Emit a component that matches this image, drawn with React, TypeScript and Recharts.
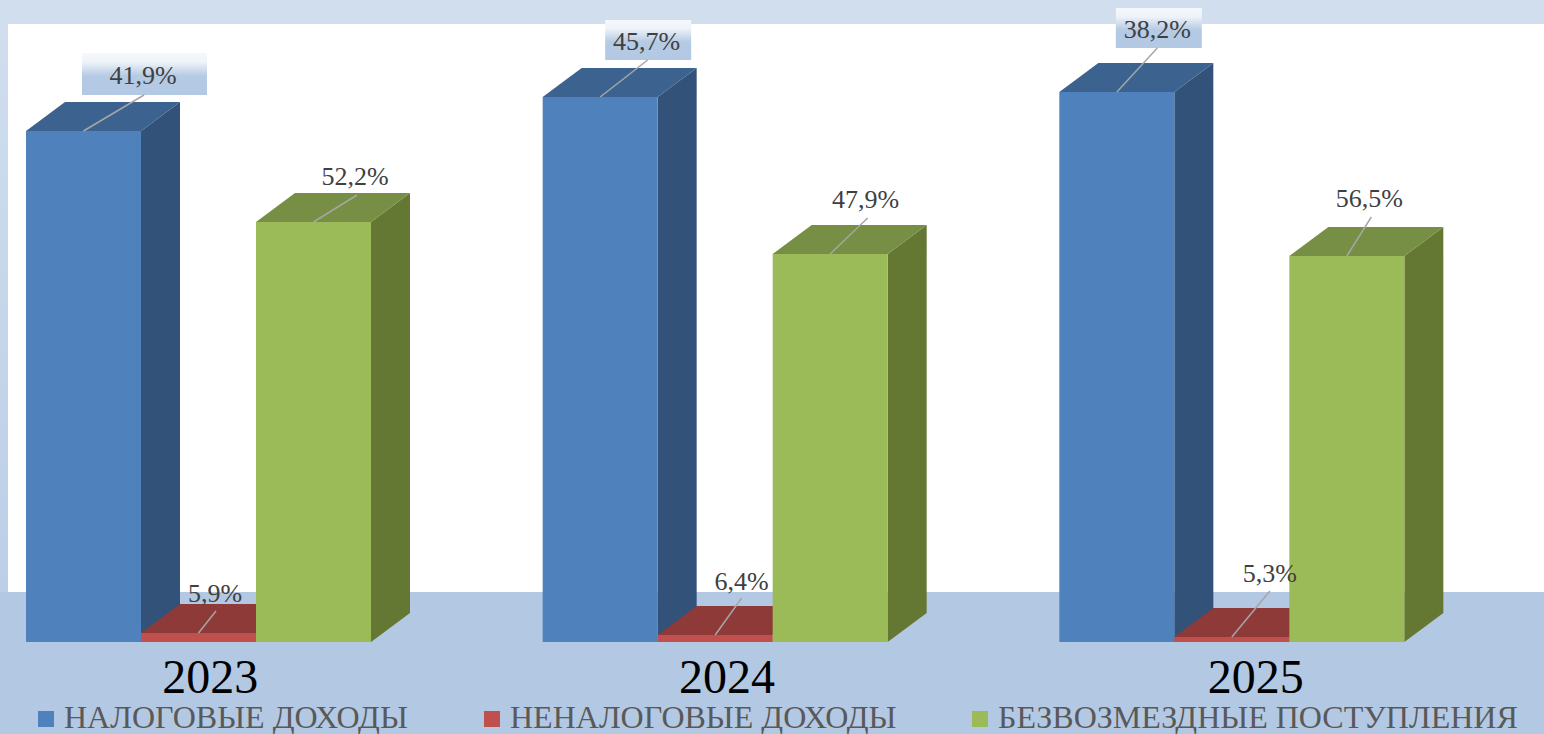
import React from 'react';
import { BarChart, Bar, XAxis, YAxis, Legend, LabelList } from 'recharts';

const years = ['2023', '2024', '2025'];

// bar heights as drawn in the picture (they do not follow the printed percentages)
const taxValues = [511, 545, 550];
const nonTaxValues = [9, 7, 5];
const grantValues = [420, 388, 386];

const taxLabels = ['41,9%', '45,7%', '38,2%'];
const nonTaxLabels = ['5,9%', '6,4%', '5,3%'];
const grantLabels = ['52,2%', '47,9%', '56,5%'];

const TAX_NAME = 'НАЛОГОВЫЕ ДОХОДЫ';
const NON_TAX_NAME = 'НЕНАЛОГОВЫЕ ДОХОДЫ';
const GRANT_NAME = 'БЕЗВОЗМЕЗДНЫЕ ПОСТУПЛЕНИЯ';

const data = years.map((year, i) => ({
  year,
  tax: taxValues[i],
  nonTax: nonTaxValues[i],
  grants: grantValues[i],
  taxLabel: taxLabels[i],
  nonTaxLabel: nonTaxLabels[i],
  grantLabel: grantLabels[i],
}));

const FONT = '"Liberation Serif", serif';
const WIDTH = 1544;
const HEIGHT = 734;
const DEPTH_X = 39;
const DEPTH_Y = 29;
const chartMargin = { top: 42, right: 54, left: -60, bottom: 42 };

// Label placement by year, relative to the middle of the bar's top edge
const taxPlacement = [
  { dx: 59.5, base: -47, endX: 60.5, endY: -36, boxX: 61, boxW: 125, boxTop: -78, boxH: 42 },
  { dx: 46.5, base: -47, endX: 47.5, endY: -37, boxX: 48, boxW: 86, boxTop: -77, boxH: 40 },
  { dx: 40.5, base: -54, endX: 40.5, endY: -44, boxX: 42, boxW: 86, boxTop: -84, boxH: 40 },
];
const nonTaxPlacement = [
  { dx: 16.5, base: -31, endX: 17.5, endY: -22 },
  { dx: 26.5, base: -45, endX: 26.5, endY: -37 },
  { dx: 38, base: -55, endX: 38, endY: -46 },
];
const grantPlacement = [
  { dx: 41.5, base: -37, endX: 43.5, endY: -27 },
  { dx: 35.5, base: -46, endX: 37.5, endY: -36 },
  { dx: 22.5, base: -49, endX: 24.5, endY: -39 },
];

// Year captions are not centred on their groups in the reference
const tickShift = [12, 12, 24];

// Flat-shaded box: side face, top face, then the front
const box3d = (front: string, side: string, top: string) => (props: any) => {
  const { x, y, width, height } = props;
  const right = x + width;
  const bottom = y + height;
  return (
    <g>
      <polygon
        points={`${right},${y} ${right + DEPTH_X},${y - DEPTH_Y} ${right + DEPTH_X},${bottom - DEPTH_Y} ${right},${bottom}`}
        fill={side}
      />
      <polygon
        points={`${x},${y} ${x + DEPTH_X},${y - DEPTH_Y} ${right + DEPTH_X},${y - DEPTH_Y} ${right},${y}`}
        fill={top}
      />
      <rect x={x} y={y} width={width} height={height} fill={front} />
    </g>
  );
};

const labelWithLeader = (placement: any[]) => (props: any) => {
  const { x, y, width, value, index } = props;
  const p = placement[index];
  const cx = x + width / 2;
  return (
    <g>
      {p.boxW && (
        <rect x={cx + p.boxX - p.boxW / 2} y={y + p.boxTop} width={p.boxW} height={p.boxH} fill="url(#labelBox)" />
      )}
      <line x1={cx} y1={y} x2={cx + p.endX} y2={y + p.endY} stroke="#a6a6a6" strokeWidth={1.5} />
      <text x={cx + p.dx} y={y + p.base} textAnchor="middle" fontFamily={FONT} fontSize={26} fill="#404040">
        {value}
      </text>
    </g>
  );
};

const YearTick = ({ x, y, payload, index }: any) => (
  <text x={x + tickShift[index]} y={y + 45} textAnchor="middle" fontFamily={FONT} fontSize={48} fill="#000000">
    {payload.value}
  </text>
);

const legendLeft = [38, 484, 972];

const LegendRow = ({ payload }: any) => (
  <div style={{ position: 'relative', width: WIDTH, height: 34 }}>
    {(payload || []).map((item: any, i: number) => (
      <div key={item.value} style={{ position: 'absolute', left: legendLeft[i], top: 0, whiteSpace: 'nowrap' }}>
        <span style={{ position: 'absolute', left: 0, top: 11, width: 16, height: 16, background: item.color }} />
        <span style={{ position: 'absolute', left: 26, top: 2, fontFamily: FONT, fontSize: 32, lineHeight: '30px', color: '#595959' }}>
          {item.value}
        </span>
      </div>
    ))}
  </div>
);

const App: React.FC = () => (
  <div style={{ position: 'absolute', left: 0, top: 0, width: WIDTH, height: HEIGHT, overflow: 'hidden', background: '#ffffff' }}>
    {/* page backdrop */}
    <div style={{ position: 'absolute', left: 0, top: 0, width: WIDTH, height: 24, background: '#d0deee' }} />
    <div style={{ position: 'absolute', left: 0, top: 24, width: 8, height: 568, background: 'linear-gradient(#d0deee, #bccfe7)' }} />
    <div style={{ position: 'absolute', left: 0, top: 592, width: WIDTH, height: 142, background: '#b3c8e3' }} />

    <div style={{ position: 'absolute', left: 0, top: 0 }}>
      <BarChart width={WIDTH} height={HEIGHT} data={data} margin={chartMargin} barGap={0} barCategoryGap={86}>
        <XAxis
          dataKey="year"
          height={50}
          axisLine={false}
          tickLine={false}
          tick={<YearTick />}
          tickMargin={0}
          interval={0}
        />
        <YAxis hide domain={[0, 600]} />
        <Legend
          layout="horizontal"
          verticalAlign="middle"
          align="center"
          itemSorter={null}
          wrapperStyle={{ left: 0, top: 700, width: WIDTH, height: 34 }}
          content={<LegendRow />}
        />
        <Bar dataKey="tax" name={TAX_NAME} fill="#4f81bd" isAnimationActive={false} shape={box3d('#4f81bd', '#32527a', '#3c6390')} />
        <Bar dataKey="nonTax" name={NON_TAX_NAME} fill="#c0504d" isAnimationActive={false} shape={box3d('#c0504d', '#7c2f2d', '#8e3a39')} />
        <Bar dataKey="grants" name={GRANT_NAME} fill="#9bbb59" isAnimationActive={false} shape={box3d('#9bbb59', '#647833', '#778f44')} />
      </BarChart>
    </div>

    {/* labels sit in a second chart so that they stay on top of every bar */}
    <div style={{ position: 'absolute', left: 0, top: 0 }}>
      <BarChart width={WIDTH} height={HEIGHT} data={data} margin={{ ...chartMargin, bottom: 92 }} barGap={0} barCategoryGap={86}>
        <defs>
          <linearGradient id="labelBox" x1="0" y1="0" x2="0" y2="1">
            <stop offset="0%" stopColor="#f5f9fd" />
            <stop offset="22%" stopColor="#eef3f9" />
            <stop offset="55%" stopColor="#b5cae3" />
            <stop offset="100%" stopColor="#b3c8e3" />
          </linearGradient>
        </defs>
        <XAxis dataKey="year" hide />
        <YAxis hide domain={[0, 600]} />
        <Bar dataKey="tax" fill="none" isAnimationActive={false}>
          <LabelList dataKey="taxLabel" content={labelWithLeader(taxPlacement)} />
        </Bar>
        <Bar dataKey="nonTax" fill="none" isAnimationActive={false}>
          <LabelList dataKey="nonTaxLabel" content={labelWithLeader(nonTaxPlacement)} />
        </Bar>
        <Bar dataKey="grants" fill="none" isAnimationActive={false}>
          <LabelList dataKey="grantLabel" content={labelWithLeader(grantPlacement)} />
        </Bar>
      </BarChart>
    </div>
  </div>
);

export default App;
